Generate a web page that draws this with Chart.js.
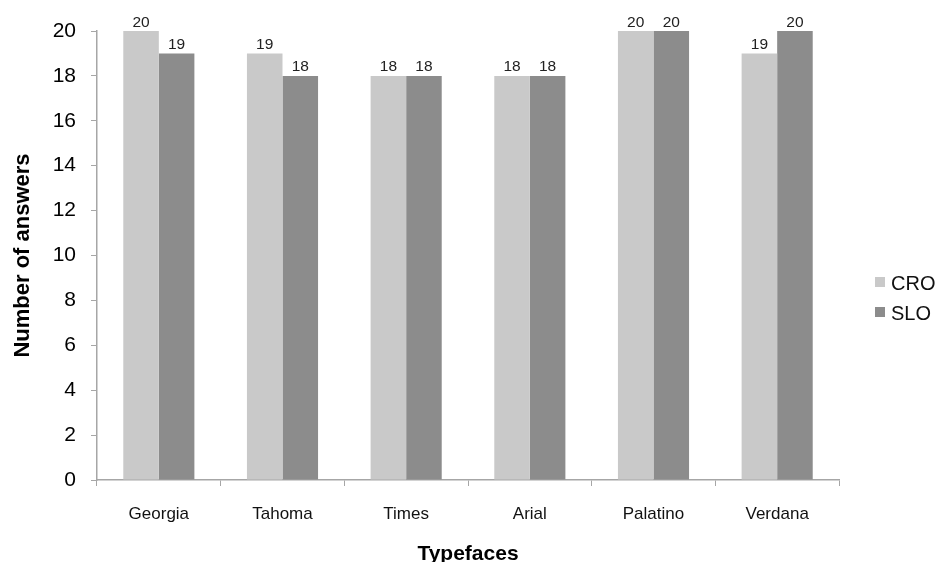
<!DOCTYPE html>
<html>
<head>
<meta charset="utf-8">
<script src="https://cdn.jsdelivr.net/npm/chart.js"></script>
<style>
  html, body { margin: 0; padding: 0; background: #fff; }
  #wrap { width: 943px; height: 562px; }
</style>
</head>
<body>
<div id="wrap"><canvas id="chart" width="943" height="562"></canvas></div>
<script>
const typefaces = ['Georgia', 'Tahoma', 'Times', 'Arial', 'Palatino', 'Verdana'];
const croAnswers = [20, 19, 18, 18, 20, 19];
const sloAnswers = [19, 18, 18, 18, 20, 20];
const seriesNames = ['CRO', 'SLO'];
const seriesColors = ['#c9c9c9', '#8c8c8c'];

const FONT = "'Liberation Sans', Arial, sans-serif";
const AXIS = '#a6a6a6';

// values over each bar
const valueLabels = {
  id: 'valueLabels',
  afterDatasetsDraw(chart) {
    const ctx = chart.ctx;
    ctx.save();
    ctx.font = '15.5px ' + FONT;
    ctx.fillStyle = '#222';
    ctx.textAlign = 'center';
    ctx.textBaseline = 'bottom';
    chart.data.datasets.forEach((ds, i) => {
      chart.getDatasetMeta(i).data.forEach((bar, j) => {
        ctx.fillText(ds.data[j], bar.x, bar.y - 1);
      });
    });
    ctx.restore();
  }
};

// legend on the right, square markers
const sideLegend = {
  id: 'sideLegend',
  afterDraw(chart) {
    const ctx = chart.ctx;
    ctx.save();
    ctx.font = '20px ' + FONT;
    ctx.textBaseline = 'middle';
    chart.data.datasets.forEach((ds, i) => {
      const y = 283 + i * 30;
      ctx.fillStyle = ds.backgroundColor;
      ctx.fillRect(875, y - 6, 10, 10);
      ctx.fillStyle = '#111';
      ctx.fillText(ds.label, 891, y + 1);
    });
    ctx.restore();
  }
};

new Chart(document.getElementById('chart'), {
  type: 'bar',
  data: {
    labels: typefaces,
    datasets: [
      { label: seriesNames[0], data: croAnswers, backgroundColor: seriesColors[0] },
      { label: seriesNames[1], data: sloAnswers, backgroundColor: seriesColors[1] }
    ]
  },
  options: {
    responsive: false,
    animation: false,
    layout: { padding: { top: 31, right: 104, left: 0, bottom: 0 } },
    categoryPercentage: 0.575,
    barPercentage: 1,
    plugins: {
      legend: { display: false },
      tooltip: { enabled: false }
    },
    scales: {
      y: {
        min: 0,
        max: 20,
        ticks: { stepSize: 2, color: '#000', font: { family: FONT, size: 21 }, padding: 15 },
        grid: { drawOnChartArea: false, color: AXIS, tickLength: 6 },
        border: { color: AXIS, width: 1.5 },
        title: {
          display: true,
          text: 'Number of answers',
          color: '#000',
          font: { family: FONT, size: 22, weight: 'bold', lineHeight: 1 },
          padding: { top: 12, bottom: 0 }
        },
        afterFit(scale) { scale.width = 97; }
      },
      x: {
        ticks: { color: '#111', font: { family: FONT, size: 17 }, padding: 18 },
        grid: { drawOnChartArea: false, color: AXIS, tickLength: 6, offset: true },
        border: { color: AXIS, width: 1.5 },
        title: {
          display: true,
          text: 'Typefaces',
          color: '#000',
          font: { family: FONT, size: 21, weight: 'bold', lineHeight: 1 },
          padding: { top: 0, bottom: -3 }
        },
        afterFit(scale) { scale.height = 82; }
      }
    }
  },
  plugins: [valueLabels, sideLegend]
});
</script>
</body>
</html>
